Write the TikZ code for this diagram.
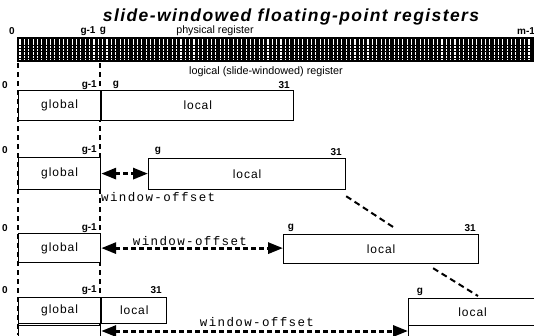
\documentclass[tikz,border=0pt]{standalone}
\usepackage{fontspec}
\setmainfont{Liberation Sans}
\setmonofont{Liberation Mono}
\usetikzlibrary{arrows.meta}

\tikzset{
  reg/.style={draw, line width=1.2pt, fill=white, inner sep=0pt, anchor=north west,
    font=\fontsize{12}{14}\selectfont\addfontfeature{LetterSpace=8}},
  idx/.style={font=\bfseries\fontsize{10}{12}\selectfont, inner sep=0pt},
  guide/.style={line width=1.5pt, dash pattern=on 5pt off 4pt},
  offs/.style={line width=3pt, dash pattern=on 5pt off 3pt,
    {Triangle[length=15pt,width=11pt]}-{Triangle[length=15pt,width=11pt]}},
  wlabel/.style={font=\ttfamily\fontsize{12.5}{14}\selectfont\addfontfeature{LetterSpace=11}, inner sep=0pt},
  shiftline/.style={line width=2pt, dash pattern=on 6pt off 4pt}
}

\begin{document}
\begin{tikzpicture}[x=1pt, y=-1pt]
\useasboundingbox (0,0) rectangle (534,335);
\clip (0,0) rectangle (534,335);

% title and physical register
\node[font=\bfseries\itshape\fontsize{17.5}{20}\selectfont\addfontfeature{LetterSpace=8}, inner sep=0pt] (title) at (291,17) {slide-windowed floating-point registers};
\node[idx] (p0) at (12,31) {0};
\node[idx] (pg1) at (88,31) {g-1};
\node[idx] (pg) at (103,31) {g};
\node[idx, font=\fontsize{10.7}{12}\selectfont] (pname) at (215,31) {physical register};
\node[idx, anchor=west] (pm1) at (517,31) {m-1};
\node[draw, fill=black, inner sep=0pt, anchor=north west, minimum width=530pt, minimum height=24pt] (phys) at (17,37) {};
\foreach \i in {0,...,117}
  \draw[white, line width=1.1pt, dash pattern=on 2.5pt off 0.8pt] (20+\i*4.35,39) -- ++(0,20);

% guides
\coordinate (t0) at (18,63);
\coordinate (t1) at (100,63);
\coordinate (b0) at (18,335);
\coordinate (b1) at (100,335);
\draw[guide] (t0) -- (b0);
\draw[guide] (t1) -- (b1);

\node[font=\fontsize{10.8}{12}\selectfont, inner sep=0pt] (lname) at (266,72) {logical (slide-windowed) register};

% row 1
\node[reg, minimum width=82pt, minimum height=30pt] (g1) at (18,90) {global};
\node[reg, minimum width=192pt, minimum height=30pt] (l1) at (g1.north east) {local};
\node[idx] (r1a) at (5,85) {0};
\node[idx, anchor=east] (r1b) at (97,85) {g-1};
\node[idx] (r1c) at (116,85) {g};
\node[idx, anchor=east] (r1d) at (290,85) {31};

% row 2
\node[reg, minimum width=82pt, minimum height=32pt] (g2) at (18,157) {global};
\node[reg, minimum width=197pt, minimum height=31pt] (l2) at (148,158) {local};
\node[idx] (r2a) at (5,150) {0};
\node[idx, anchor=east] (r2b) at (97,150) {g-1};
\node[idx] (r2c) at (158,151) {g};
\node[idx, anchor=east] (r2d) at (342,152) {31};
\draw[offs] (g2.east) -- (g2.east -| l2.west);
\node[wlabel, anchor=north west] (w2) at (101,192) {window-offset};

% row 3
\node[reg, minimum width=82pt, minimum height=29pt] (g3) at (18,233) {global};
\node[reg, minimum width=195pt, minimum height=29pt] (l3) at (283,234) {local};
\node[idx] (r3a) at (5,228) {0};
\node[idx, anchor=east] (r3b) at (97,228) {g-1};
\node[idx] (r3c) at (291,228) {g};
\node[idx, anchor=east] (r3d) at (476,228) {31};
\draw[offs] (g3.east) -- (g3.east -| l3.west);
\node[wlabel] (w3) at (190,241) {window-offset};

% row 4
\node[reg, minimum width=82pt, minimum height=26pt] (g4) at (18,297) {global};
\node[reg, minimum width=65pt, minimum height=26pt] (l4) at (g4.north east) {local};
\node[reg, minimum width=128pt, minimum height=27pt] (r4) at (408,298) {local};
\node[idx] (r4a) at (5,290) {0};
\node[idx, anchor=east] (r4b) at (97,290) {g-1};
\node[idx, anchor=east] (r4d) at (162,290) {31};
\node[idx] (r4c) at (420,292) {g};

% row 5
\node[reg, minimum width=82pt, minimum height=40pt] (g5) at (18,325) {};
\node[reg, minimum width=128pt, minimum height=40pt] (r5) at (408,325) {};
\draw[offs] ([yshift=-6pt]g5.north east) -- ([yshift=-6pt]r5.north west);
\node[wlabel] (w4) at (257,322) {window-offset};

% shifts
\draw[shiftline] ([yshift=-6pt]l2.south east) -- ([xshift=12pt,yshift=7pt]l3.north);
\draw[shiftline] ([xshift=52pt,yshift=-4pt]l3.south) -- ([xshift=70pt,yshift=2pt]r4.north west);
\end{tikzpicture}
\end{document}
